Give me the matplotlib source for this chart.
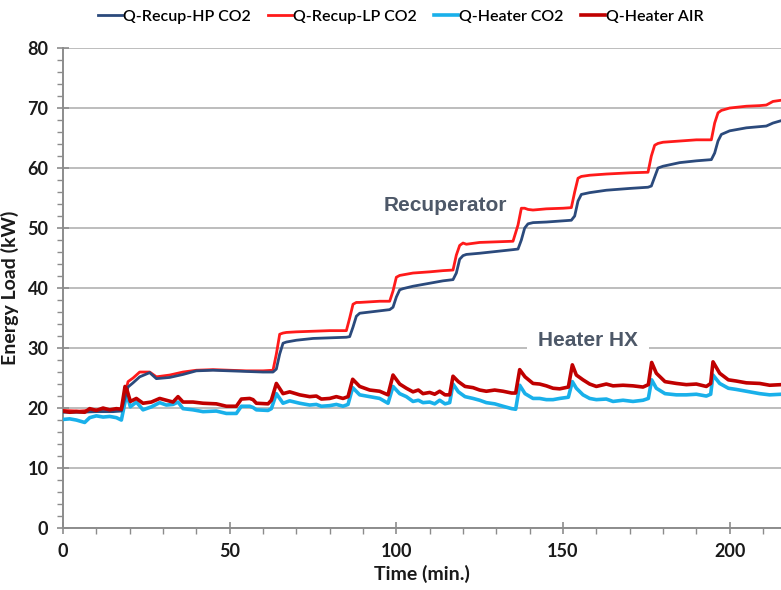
import matplotlib.pyplot as plt
from matplotlib.ticker import MultipleLocator

# time axis (min.) for the recuperator curves
t_recup = [0, 5, 10, 15, 17.5, 18.5, 19.5, 21, 23, 26, 28, 32, 36, 40, 45, 50, 55, 60, 63,
           64, 65, 66, 67, 70, 75, 80, 85, 86, 87, 88, 89, 92, 95, 98, 99, 100, 101, 102,
           105, 110, 114, 117, 118, 119, 120, 121, 125, 130, 135, 136.5, 137.5, 138.5,
           139.5, 141, 145, 150, 152.5, 153.5, 154.5, 155.5, 158, 163, 170, 175.5, 176.5,
           177.5, 178.5, 180, 185, 190, 194.5, 195.5, 196.5, 197.5, 200, 205, 209, 211,
           213, 215.5]
q_recup_lp = [19.6, 19.5, 19.7, 19.6, 19.7, 22.0, 24.4, 25.0, 26.0, 26.0, 25.2, 25.5, 26.0,
              26.3, 26.4, 26.3, 26.2, 26.2, 26.3, 29.0, 32.3, 32.5, 32.6, 32.7, 32.8, 32.9,
              32.9, 35.0, 37.3, 37.6, 37.6, 37.7, 37.8, 37.8, 39.5, 41.8, 42.1, 42.2, 42.5,
              42.7, 42.9, 43.0, 45.5, 47.1, 47.5, 47.3, 47.6, 47.7, 47.8, 50.5, 53.3, 53.3,
              53.1, 53.0, 53.2, 53.3, 53.4, 56.0, 58.3, 58.6, 58.8, 59.0, 59.2, 59.3, 62.0,
              63.8, 64.1, 64.3, 64.5, 64.7, 64.7, 67.5, 69.2, 69.6, 70.0, 70.3, 70.4, 70.5,
              71.1, 71.3]
q_recup_hp = [19.3, 19.3, 19.4, 19.4, 19.5, 21.5, 23.5, 24.2, 25.2, 25.9, 24.9, 25.1, 25.6,
              26.2, 26.3, 26.2, 26.1, 26.0, 26.0, 26.5, 29.0, 30.8, 31.0, 31.3, 31.6, 31.7,
              31.8, 31.9, 33.5, 35.3, 35.8, 36.0, 36.2, 36.4, 36.8, 38.5, 39.7, 39.9, 40.3,
              40.8, 41.2, 41.4, 42.5, 44.8, 45.4, 45.6, 45.8, 46.1, 46.4, 46.5, 48.0, 50.0,
              50.7, 50.9, 51.0, 51.2, 51.3, 52.0, 54.5, 55.6, 55.9, 56.3, 56.6, 56.8, 57.0,
              58.5, 60.0, 60.3, 60.9, 61.2, 61.4, 62.5, 64.5, 65.6, 66.2, 66.7, 66.9, 67.0,
              67.5, 67.9]

# time axis (min.) for the heater curves
t_heater = [0, 2, 4, 6.5, 8, 10, 12, 14, 16, 17.5, 18.6, 19.2, 20.2, 22, 24, 26.5, 29, 31,
            33, 34.5, 36, 39, 42, 46, 49, 52, 53.5, 56, 57, 58, 61.5, 62.5, 64, 66, 68, 71,
            74, 76, 77.5, 80, 82, 84, 85.5, 86.9, 89, 92, 95, 97.5, 99, 101, 103, 105,
            106.6, 108, 110, 111.5, 113, 114.6, 116, 117, 118.6, 120.6, 123, 125, 127,
            129.5, 132, 134.6, 135.8, 137, 138.6, 141, 143, 145, 147, 149, 151.6, 152.8,
            154, 156, 158, 160, 163, 165, 168, 171, 174, 175.6, 176.6, 178, 180.6, 184,
            187, 190, 193, 194.3, 195, 197, 199.6, 202, 205, 209, 212, 215.5]
q_heater_air = [19.5, 19.3, 19.4, 19.3, 19.9, 19.6, 20.0, 19.7, 19.9, 19.8, 23.6, 23.0,
                21.1, 21.6, 20.8, 21.0, 21.6, 21.3, 21.0, 21.9, 21.0, 21.0, 20.8, 20.7,
                20.3, 20.3, 21.5, 21.6, 21.4, 20.8, 20.7, 21.3, 24.1, 22.4, 22.7, 22.2,
                21.9, 22.0, 21.5, 21.6, 21.9, 21.6, 21.9, 24.8, 23.6, 23.0, 22.8, 22.2,
                25.5, 24.0, 23.3, 22.7, 23.0, 22.4, 22.6, 22.3, 22.8, 22.2, 22.2, 25.3,
                24.4, 23.6, 23.4, 23.0, 22.8, 23.0, 22.8, 22.5, 22.5, 26.4, 25.2, 24.1,
                24.0, 23.7, 23.3, 23.2, 23.5, 27.2, 25.5, 24.7, 24.0, 23.6, 24.0, 23.7,
                23.8, 23.7, 23.5, 23.9, 27.6, 25.8, 24.4, 24.1, 23.9, 24.0, 23.6, 24.1,
                27.7, 25.8, 24.7, 24.5, 24.2, 24.1, 23.8, 23.9]
q_heater_co2 = [18.1, 18.2, 18.0, 17.6, 18.4, 18.7, 18.5, 18.6, 18.4, 18.0, 21.0, 22.2,
                20.2, 21.0, 19.7, 20.2, 20.9, 20.5, 20.6, 21.0, 19.9, 19.7, 19.4, 19.5,
                19.1, 19.1, 20.3, 20.3, 20.1, 19.7, 19.6, 19.9, 22.4, 20.8, 21.2, 20.8,
                20.5, 20.6, 20.3, 20.4, 20.6, 20.3, 20.6, 23.4, 22.2, 21.9, 21.6, 20.8,
                23.6, 22.4, 21.9, 21.1, 21.3, 20.9, 21.0, 20.7, 21.3, 20.7, 20.9, 24.0,
                22.7, 21.9, 21.6, 21.3, 20.9, 20.7, 20.3, 19.9, 19.8, 23.8, 22.4, 21.6,
                21.6, 21.4, 21.4, 21.6, 21.8, 24.4, 23.3, 22.2, 21.6, 21.4, 21.5, 21.1,
                21.3, 21.1, 21.3, 21.6, 24.7, 23.3, 22.4, 22.2, 22.2, 22.3, 22.0, 22.3,
                25.5, 24.1, 23.3, 23.1, 22.8, 22.4, 22.2, 22.3]

plt.rcParams['font.family'] = ['Lato', 'DejaVu Sans']

fig = plt.figure(figsize=(7.81, 5.90), dpi=100)
ax = fig.add_axes([0.0807, 0.105, 0.9193, 0.8136])

ax.plot(t_recup, q_recup_hp, color='#2b4a7c', lw=2.0, label='Q-Recup-HP CO2', zorder=4)
ax.plot(t_recup, q_recup_lp, color='#ff1a1a', lw=2.0, label='Q-Recup-LP CO2', zorder=3)
ax.plot(t_heater, q_heater_co2, color='#19b0ea', lw=2.6, label='Q-Heater CO2', zorder=3)
ax.plot(t_heater, q_heater_air, color='#c00000', lw=2.6, label='Q-Heater AIR', zorder=4)

ax.set_xlim(0, 215.4)
ax.set_ylim(0, 80)
ax.xaxis.set_major_locator(MultipleLocator(50))
ax.xaxis.set_minor_locator(MultipleLocator(10))
ax.yaxis.set_major_locator(MultipleLocator(10))
ax.yaxis.set_minor_locator(MultipleLocator(2))
ax.grid(axis='y', which='major', color='#bdbdbd', lw=1.4)
ax.set_axisbelow(True)

for s in ['right', 'top']:
    ax.spines[s].set_visible(False)
for s in ['left', 'bottom']:
    ax.spines[s].set_color('#8c8c8c')
    ax.spines[s].set_linewidth(1.4)

ax.tick_params(which='major', direction='inout', length=9, width=1.2, color='#8c8c8c',
               labelsize=13, labelcolor='#1a1a1a', pad=6)
ax.tick_params(which='minor', direction='out', length=4, width=1.0, color='#8c8c8c')
for lab in ax.get_xticklabels() + ax.get_yticklabels():
    lab.set_fontweight('bold')

ax.set_xlabel('Time (min.)', fontsize=14, fontweight='bold', color='#1a1a1a', labelpad=4)
ax.set_ylabel('Energy Load (kW)', fontsize=14, fontweight='bold', color='#1a1a1a', labelpad=6)

ax.text(114.6, 53.8, 'Recuperator', fontsize=15, fontweight='bold', color='#4d5868',
        family='Liberation Sans', ha='center', va='center')
ax.text(157.5, 31.3, 'Heater HX', fontsize=15, fontweight='bold', color='#4d5868',
        family='Liberation Sans', ha='center', va='center', zorder=5,
        bbox=dict(boxstyle='square,pad=0.55', fc='white', ec='none'))

fig.legend(loc='center', bbox_to_anchor=(401 / 781, 1 - 17 / 590), ncol=4, frameon=False,
           prop={'size': 11.5, 'weight': 'semibold'}, handlelength=1.5, handletextpad=0.05,
           columnspacing=1.1)

fig.savefig('out.png', dpi=100)
